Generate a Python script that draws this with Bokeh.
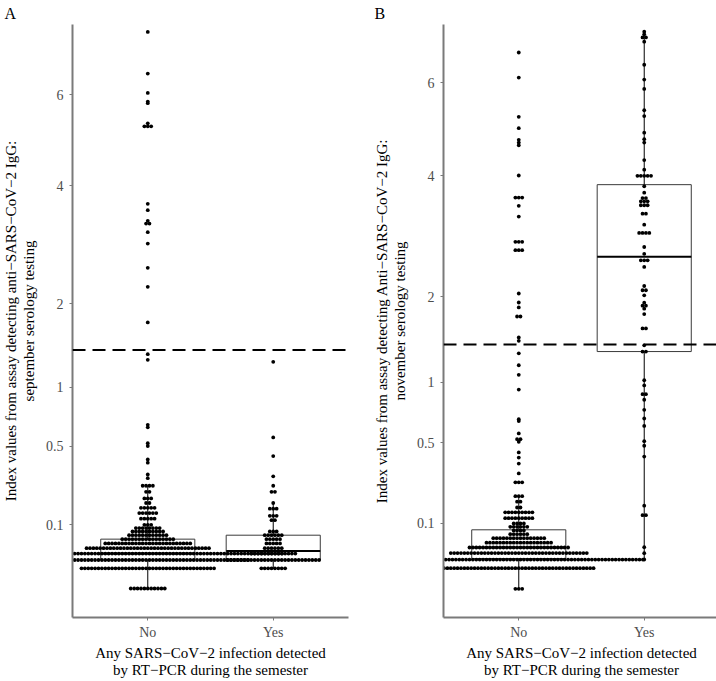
import numpy as np
from bokeh.plotting import figure
from bokeh.models import FixedTicker, Span, Range1d
from bokeh.layouts import row
from bokeh.embed import file_html
from bokeh.resources import INLINE

FONT = "Liberation Serif"

groups = ["No", "Yes"]
y_ticks = [0.1, 0.5, 1, 2, 4, 6]
y_tick_labels = ["0.1", "0.5", "1", "2", "4", "6"]
threshold = 1.4

x_title = "Any SARS\u2212CoV\u22122 infection detected\nby RT\u2212PCR during the semester"
a_ylabel = "Index values from assay detecting anti\u2212SARS\u2212CoV\u22122 IgG:\nseptember serology testing"
b_ylabel = "Index values from assay detecting Anti\u2212SARS\u2212CoV\u22122 IgG:\nnovember serology testing"

# ---------------- Panel A (september) ----------------
a_no_values = [7.63, 6.53, 6.05, 5.84, 5.80, 5.33, 5.26, 3.645, 3.525, 3.33, 3.28,
               3.127, 2.93, 2.533, 2.242, 1.743, 1.352, 1.288,
               0.66, 0.64, 0.52, 0.50, 0.41, 0.39, 0.32, 0.30,
               0.26, 0.23, 0.20, 0.18, 0.16, 0.14, 0.12, 0.10, 0.09, 0.08,
               0.07, 0.06, 0.05, 0.04, 0.03, 0.02, 0.01, 0.00]
a_no_counts = [1, 1, 1, 1, 1, 1, 3, 1, 1, 1, 2,
               1, 1, 1, 1, 1, 1, 1,
               1, 1, 1, 1, 1, 1, 1, 1,
               4, 2, 3, 2, 5, 6, 5, 3, 8, 10,
               12, 16, 26, 37, 80, 60, 40, 11]

a_yes_values = [1.266, 0.562, 0.432, 0.31, 0.26, 0.23, 0.18, 0.157, 0.13, 0.115,
                0.08, 0.07, 0.06, 0.05, 0.04, 0.03, 0.02, 0.01]
a_yes_counts = [1, 1, 1, 1, 1, 2, 1, 3, 3, 2,
                3, 6, 5, 5, 6, 14, 28, 8]

a_whisker_low = [0.00, 0.01]
a_q1 = [0.02, 0.02]
a_median = [0.03, 0.0348]
a_q3 = [0.06, 0.07]
a_whisker_high = [0.26, 0.18]

# ---------------- Panel B (november) ----------------
b_no_values = [6.745, 6.13, 5.225, 4.975, 4.727, 4.67, 4.614, 4.006,
               3.59, 3.44, 3.25, 2.823, 2.689, 2.045, 1.922, 1.856, 1.739,
               1.481, 1.442, 1.30, 1.172, 1.074, 0.931, 0.674, 0.66, 0.566,
               0.525, 0.507, 0.436, 0.404, 0.368, 0.312,
               0.266, 0.201, 0.178, 0.155, 0.137, 0.117, 0.10, 0.09, 0.08, 0.07,
               0.06, 0.05, 0.04, 0.03, 0.02, 0.01, 0.00]
b_no_counts = [1, 1, 1, 1, 1, 1, 1, 1,
               3, 1, 1, 3, 3, 1, 1, 1, 2,
               1, 1, 1, 1, 1, 1, 1, 1, 1,
               2, 1, 1, 1, 1, 1,
               3, 3, 2, 2, 9, 9, 4, 6, 4, 6,
               16, 20, 30, 41, 74, 45, 3]

b_yes_values = [7.28, 7.21, 7.13, 7.02, 6.44, 6.08, 5.86, 5.37, 5.24, 4.88,
                4.74, 4.67, 4.31, 4.12, 4.00, 3.80, 3.68, 3.58, 3.52, 3.45,
                3.30, 3.11, 2.97, 2.74, 2.63, 2.53, 2.43, 2.15, 2.09, 2.02,
                1.92, 1.88, 1.84, 1.77, 1.59, 1.39, 1.32, 1.02, 0.97, 0.888,
                0.838, 0.751, 0.68, 0.622, 0.511, 0.48, 0.41, 0.162, 0.127, 0.0406,
                0.0297, 0.0201]
b_yes_counts = [1, 1, 2, 1, 1, 1, 1, 1, 1, 1,
                1, 1, 1, 1, 5, 1, 1, 2, 3, 3,
                2, 1, 4, 1, 1, 3, 1, 1, 2, 1,
                1, 2, 1, 1, 2, 1, 2, 1, 1, 2,
                1, 1, 1, 1, 1, 1, 1, 1, 2, 1,
                1, 1]

b_whisker_low = [0.00, 0.0201]
b_q1 = [0.0215, 1.32]
b_median = [0.04, 2.585]
b_q3 = [0.0816, 3.83]
b_whisker_high = [0.20, 7.28]

TOP = 22          # title band height (px)
FRAME_BOTTOM = 615


def make_panel(letter, ylabel, series, wlo, q1, med, q3, whi,
               zero_px, px_per_sqrt, border_left, border_right, letter_x, frame_w=276):
    frame_h = FRAME_BOTTOM - TOP
    y_hi = (zero_px - TOP) / px_per_sqrt
    y_lo = (zero_px - FRAME_BOTTOM) / px_per_sqrt
    p = figure(output_backend="svg", toolbar_location=None,
               frame_width=frame_w, frame_height=frame_h,
               min_border_left=border_left, min_border_right=border_right,
               min_border_top=TOP, min_border_bottom=64,
               x_range=Range1d(0.4, 2.6), y_range=Range1d(y_lo, y_hi),
               background_fill_color="white", border_fill_color="white",
               outline_line_color=None)
    p.xgrid.visible = False
    p.ygrid.visible = False

    p.title.text = letter
    p.title.align = "left"
    p.title.offset = -(border_left - letter_x)
    p.title.standoff = 5
    p.title.text_font = FONT
    p.title.text_font_size = "16px"
    p.title.text_font_style = "normal"
    p.title.text_color = "black"

    px_per_unit = frame_w / 2.2
    spacing = 3.4 / px_per_unit

    xs = np.array([1.0, 2.0])
    sq = lambda a: np.sqrt(np.array(a, dtype=float))
    p.segment(x0=xs, x1=xs, y0=sq(q3), y1=sq(whi), line_color="black", line_width=1)
    p.segment(x0=xs, x1=xs, y0=sq(wlo), y1=sq(q1), line_color="black", line_width=1)
    p.quad(left=xs - 0.375, right=xs + 0.375, bottom=sq(q1), top=sq(q3),
           fill_color="white", line_color="#3a3a3a", line_width=1)
    p.segment(x0=xs - 0.375, x1=xs + 0.375, y0=sq(med), y1=sq(med),
              line_color="black", line_width=2)

    dx, dy = [], []
    for gi, (vals, cnts) in enumerate(series):
        assert len(vals) == len(cnts)
        for v, n in zip(vals, cnts):
            offs = (np.arange(n) - (n - 1) / 2.0) * spacing
            dx.extend(list(gi + 1 + offs))
            dy.extend([np.sqrt(v)] * n)
    p.scatter(dx, dy, size=3.8, marker="circle", fill_color="black",
              line_color=None)

    p.add_layout(Span(location=np.sqrt(threshold), dimension="width",
                      line_color="black", line_width=2, line_dash="13 7"))

    p.xaxis.ticker = FixedTicker(ticks=[1, 2])
    p.xaxis.major_label_overrides = {1: groups[0], 2: groups[1]}
    tick_pos = [float(np.sqrt(t)) for t in y_ticks]
    p.yaxis.ticker = FixedTicker(ticks=tick_pos)
    p.yaxis.major_label_overrides = {tp: lab for tp, lab in zip(tick_pos, y_tick_labels)}

    for ax in (p.xaxis[0], p.yaxis[0]):
        ax.axis_line_color = "#7a7a7a"
        ax.axis_line_width = 2
        ax.major_tick_line_color = "#7a7a7a"
        ax.major_tick_line_width = 1
        ax.major_tick_out = 3
        ax.major_tick_in = 0
        ax.minor_tick_line_color = None
        ax.major_label_text_font = FONT
        ax.major_label_text_font_size = "14px"
        ax.major_label_text_color = "#4d4d4d"
        ax.axis_label_text_font = FONT
        ax.axis_label_text_font_size = "15px"
        ax.axis_label_text_font_style = "normal"
        ax.axis_label_text_color = "black"
        ax.axis_label_text_line_height = 1.1
    p.xaxis.axis_label = x_title
    p.xaxis.major_label_standoff = 4
    p.xaxis.axis_label_standoff = 2
    p.yaxis.axis_label = ylabel
    p.yaxis.major_label_standoff = 6
    p.yaxis.axis_label_standoff = 6
    return p


pa = make_panel("A", a_ylabel,
                [(a_no_values, a_no_counts), (a_yes_values, a_yes_counts)],
                a_whisker_low, a_q1, a_median, a_q3, a_whisker_high,
                586.0, 201.5, 69, 13, 1)
pb = make_panel("B", b_ylabel,
                [(b_no_values, b_no_counts), (b_yes_values, b_yes_counts)],
                b_whisker_low, b_q1, b_median, b_q3, b_whisker_high,
                586.3, 206.5, 82, 0, 13)

layout = row(pa, pb)
open("out.html", "w").write(file_html(layout, INLINE))
